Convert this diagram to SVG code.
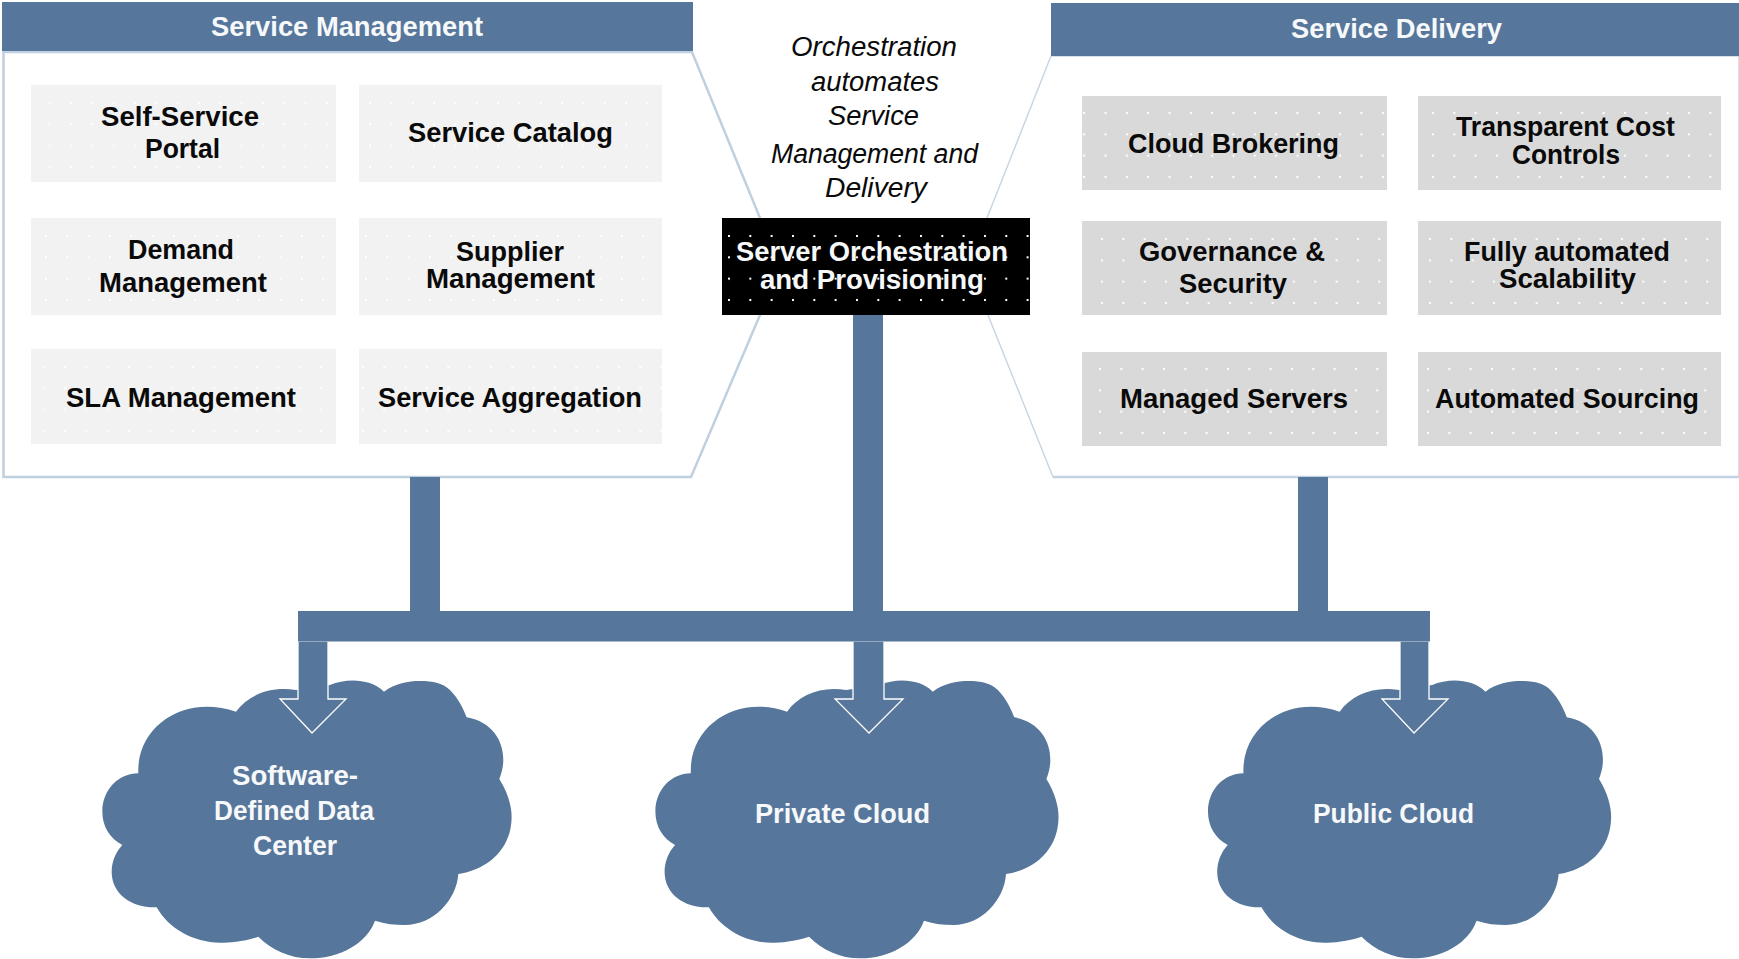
<svg xmlns="http://www.w3.org/2000/svg" xmlns:xlink="http://www.w3.org/1999/xlink" width="1739" height="959" viewBox="0 0 1739 959">
<style>
text{font-family:"Liberation Sans",Arial,sans-serif;font-size:27px}
.b{font-weight:700;fill:#0a0a0a}
.w{font-weight:700;fill:#f6f8fa}
.i{font-style:italic;fill:#0a0a0a}
.blue{fill:#56779b}
.panel{fill:#fff;stroke:#bfd0df;stroke-width:2.5}
.panel2{fill:#fff;stroke:#c9d7e4;stroke-width:1.5}
.edge{stroke:#c3d3e1;stroke-width:2.5;fill:none}
.light{fill:#f2f2f2}
.grey{fill:#d9d9d9}
.dark{fill:#000}
.arrow{fill:#56779b;stroke:#fff;stroke-width:1.3}
</style>
<defs>
<pattern id="dots" patternUnits="userSpaceOnUse" width="21.33" height="21.33"><rect width="2" height="2" fill="#fff"/></pattern>
<path id="cloud" d="M468 335C505 285 570 258 648 270L750 255C800 235 870 235 912 275C945 250 985 243 1020 243C1060 243 1090 250 1110 270C1135 295 1150 325 1160 352C1235 365 1270 420 1270 480C1270 500 1265 520 1258 537C1285 580 1295 620 1295 650C1295 750 1220 810 1135 822C1130 900 1060 975 975 975C945 975 915 972 885 962C860 1030 780 1075 690 1075C630 1075 575 1050 535 1010C490 1025 450 1028 420 1028C340 1028 265 985 230 922C160 925 95 885 95 815C95 785 108 755 127 735C90 715 67 680 67 635C67 570 115 520 175 520C170 400 270 320 380 320C410 320 440 325 468 335Z"/>
</defs>
<rect width="1739" height="959" fill="#fff"/>

<g id="service-management">
<polygon class="panel" points="3.5,52 692,52 760,218 760,315 691,477 3.5,477"/>
<rect class="blue" x="2" y="2" width="691" height="49"/>
<text class="w" x="211" y="36" textLength="272" lengthAdjust="spacingAndGlyphs">Service Management</text>
</g>
<g id="service-delivery">
<polygon class="panel2" points="1739,56 1051,56 987,218 988,315 1053,477 1739,477"/>
<line class="edge" x1="1053" y1="477" x2="1739" y2="477"/>
<rect class="blue" x="1051" y="3" width="688" height="53"/>
<text class="w" x="1291" y="38" textLength="211" lengthAdjust="spacingAndGlyphs">Service Delivery</text>
</g>

<g id="self-service-portal">
<rect class="light" x="31" y="85" width="305" height="97"/>
<rect fill="url(#dots)" transform="translate(48.6,102)" x="-17.6" y="-17" width="305" height="97"/>
<text class="b" x="101" y="126" textLength="158" lengthAdjust="spacingAndGlyphs">Self-Service</text>
<text class="b" x="145" y="158" textLength="75" lengthAdjust="spacingAndGlyphs">Portal</text>
</g>
<g id="service-catalog">
<rect class="light" x="359" y="85" width="303" height="97"/>
<rect fill="url(#dots)" transform="translate(369,102)" x="-10" y="-17" width="303" height="97"/>
<text class="b" x="408" y="142" textLength="205" lengthAdjust="spacingAndGlyphs">Service Catalog</text>
</g>
<g id="demand-management">
<rect class="light" x="31" y="218" width="305" height="97"/>
<rect fill="url(#dots)" transform="translate(45,235)" x="-14" y="-17" width="305" height="97"/>
<text class="b" x="128" y="259" textLength="106" lengthAdjust="spacingAndGlyphs">Demand</text>
<text class="b" x="99" y="292" textLength="168" lengthAdjust="spacingAndGlyphs">Management</text>
</g>
<g id="supplier-management">
<rect class="light" x="359" y="218" width="303" height="97"/>
<rect fill="url(#dots)" transform="translate(365,235)" x="-6" y="-17" width="303" height="97"/>
<text class="b" x="456" y="261" textLength="108" lengthAdjust="spacingAndGlyphs">Supplier</text>
<text class="b" x="426" y="288" textLength="169" lengthAdjust="spacingAndGlyphs">Management</text>
</g>
<g id="sla-management">
<rect class="light" x="31" y="349" width="305" height="95"/>
<rect fill="url(#dots)" transform="translate(42.6,366)" x="-11.6" y="-17" width="305" height="95"/>
<text class="b" x="66" y="407" textLength="230" lengthAdjust="spacingAndGlyphs">SLA Management</text>
</g>
<g id="service-aggregation">
<rect class="light" x="359" y="349" width="303" height="95"/>
<rect fill="url(#dots)" transform="translate(362,366)" x="-3" y="-17" width="303" height="95"/>
<text class="b" x="378" y="407" textLength="264" lengthAdjust="spacingAndGlyphs">Service Aggregation</text>
</g>

<g id="cloud-brokering">
<rect class="grey" x="1082" y="96" width="305" height="94"/>
<rect fill="url(#dots)" transform="translate(1083.2,112)" x="-1.2" y="-16" width="305" height="94"/>
<text class="b" x="1128" y="153" textLength="211" lengthAdjust="spacingAndGlyphs">Cloud Brokering</text>
</g>
<g id="transparent-cost-controls">
<rect class="grey" x="1418" y="96" width="303" height="94"/>
<rect fill="url(#dots)" transform="translate(1432,112)" x="-14" y="-16" width="303" height="94"/>
<text class="b" x="1456" y="136" textLength="219" lengthAdjust="spacingAndGlyphs">Transparent Cost</text>
<text class="b" x="1512" y="164" textLength="108" lengthAdjust="spacingAndGlyphs">Controls</text>
</g>
<g id="governance-security">
<rect class="grey" x="1082" y="221" width="305" height="94"/>
<rect fill="url(#dots)" transform="translate(1101,238)" x="-19" y="-17" width="305" height="94"/>
<text class="b" x="1139" y="261" textLength="186" lengthAdjust="spacingAndGlyphs">Governance &amp;</text>
<text class="b" x="1179" y="293" textLength="108" lengthAdjust="spacingAndGlyphs">Security</text>
</g>
<g id="fully-automated-scalability">
<rect class="grey" x="1418" y="221" width="303" height="94"/>
<rect fill="url(#dots)" transform="translate(1429,238)" x="-11" y="-17" width="303" height="94"/>
<text class="b" x="1464" y="261" textLength="206" lengthAdjust="spacingAndGlyphs">Fully automated</text>
<text class="b" x="1499" y="288" textLength="137" lengthAdjust="spacingAndGlyphs">Scalability</text>
</g>
<g id="managed-servers">
<rect class="grey" x="1082" y="352" width="305" height="94"/>
<rect fill="url(#dots)" transform="translate(1099,368)" x="-17" y="-16" width="305" height="94"/>
<text class="b" x="1120" y="408" textLength="228" lengthAdjust="spacingAndGlyphs">Managed Servers</text>
</g>
<g id="automated-sourcing">
<rect class="grey" x="1418" y="352" width="303" height="94"/>
<rect fill="url(#dots)" transform="translate(1427,368)" x="-9" y="-16" width="303" height="94"/>
<text class="b" x="1435" y="408" textLength="264" lengthAdjust="spacingAndGlyphs">Automated Sourcing</text>
</g>

<g id="orchestration-note">
<text class="i" x="791" y="56" textLength="166" lengthAdjust="spacingAndGlyphs">Orchestration</text>
<text class="i" x="811" y="91" textLength="128" lengthAdjust="spacingAndGlyphs">automates</text>
<text class="i" x="828" y="125" textLength="91" lengthAdjust="spacingAndGlyphs">Service</text>
<text class="i" x="771" y="163" textLength="207" lengthAdjust="spacingAndGlyphs">Management and</text>
<text class="i" x="825" y="197" textLength="102" lengthAdjust="spacingAndGlyphs">Delivery</text>
</g>

<g id="server-orchestration">
<rect class="dark" x="722" y="218" width="308" height="97"/>
<rect fill="url(#dots)" transform="translate(728,235)" x="-6" y="-17" width="308" height="97"/>
<text class="w" x="736" y="261" textLength="272" lengthAdjust="spacingAndGlyphs">Server Orchestration</text>
<text class="w" x="760" y="289" textLength="224" lengthAdjust="spacingAndGlyphs">and Provisioning</text>
</g>

<g id="cloud-sddc">
<use xlink:href="#cloud" href="#cloud" class="blue" transform="translate(80,600) scale(.3333)"/>
<text class="w" x="232" y="785" textLength="126" lengthAdjust="spacingAndGlyphs">Software-</text>
<text class="w" x="214" y="820" textLength="160" lengthAdjust="spacingAndGlyphs">Defined Data</text>
<text class="w" x="253" y="855" textLength="84" lengthAdjust="spacingAndGlyphs">Center</text>
</g>
<g id="cloud-private">
<use xlink:href="#cloud" href="#cloud" class="blue" transform="translate(633.4,600) scale(.3283,.3333)"/>
<text class="w" x="755" y="823" textLength="175" lengthAdjust="spacingAndGlyphs">Private Cloud</text>
</g>
<g id="cloud-public">
<use xlink:href="#cloud" href="#cloud" class="blue" transform="translate(1186,600) scale(.3283,.3333)"/>
<text class="w" x="1313" y="823" textLength="161" lengthAdjust="spacingAndGlyphs">Public Cloud</text>
</g>

<g id="connectors">
<polygon class="arrow" points="298,641 328,641 328,699 346,699 312,733 280,699 298,699"/>
<polygon class="arrow" points="853,641 884,641 884,699 903,699 869,733 835,699 853,699"/>
<polygon class="arrow" points="1400,641 1429,641 1429,699 1448,699 1414,733 1382,699 1400,699"/>
<rect class="blue" x="410" y="477" width="30" height="135"/>
<rect class="blue" x="853" y="315" width="30" height="297"/>
<rect class="blue" x="1298" y="477" width="30" height="135"/>
<rect class="blue" x="298" y="611" width="1132" height="30.5"/>
</g>
</svg>
